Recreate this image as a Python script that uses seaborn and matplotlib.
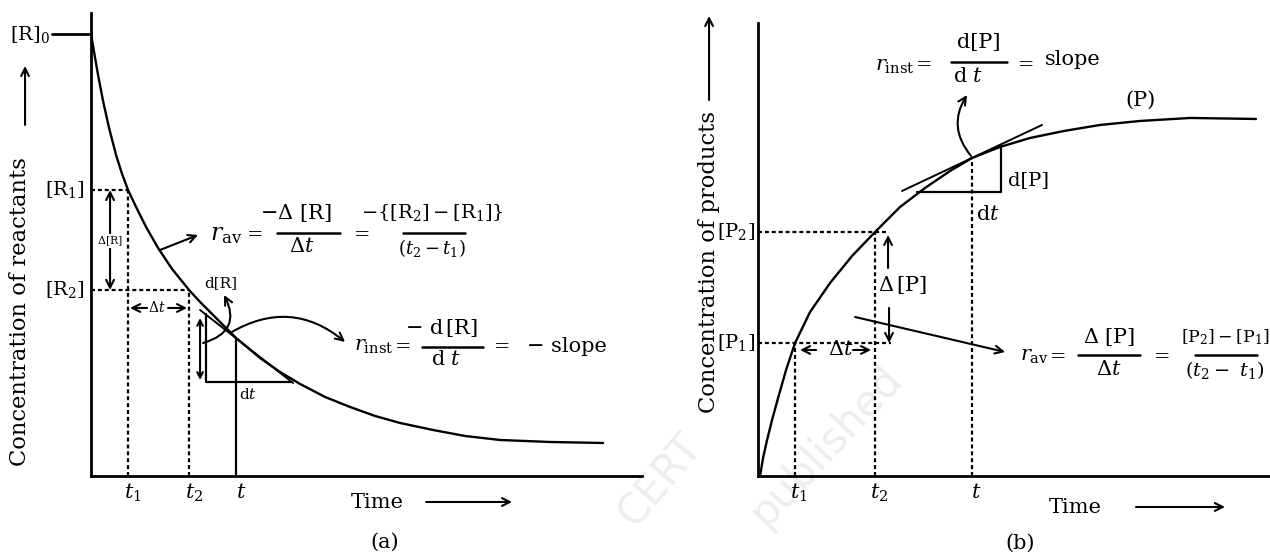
import matplotlib.pyplot as plt
import seaborn as sns

sns.set_theme(style="white")
plt.rcParams["font.family"] = ["DejaVu Serif"]
plt.rcParams["mathtext.fontset"] = "dejavuserif"

# (a) reactant curve (arbitrary units)
time_a = [0.0, 0.3, 0.7, 1.2, 1.8, 2.5, 3.1, 3.7, 4.5, 5.5, 6.7, 8.1, 9.8, 10.9,
          12.1, 13.3, 14.5, 16.9, 18.9, 20.9, 23.4, 25.9, 28.4, 30.9, 34.2,
          37.4, 40.9, 45.9, 51.2]
conc_a = [44.2, 42.4, 40.1, 37.5, 34.8, 32.1, 30.2, 28.6, 26.9, 24.9, 22.8, 20.7,
          18.6, 17.4, 16.2, 15.0, 13.8, 11.8, 10.4, 9.2, 7.9, 6.9, 6.0, 5.3, 4.6,
          4.0, 3.6, 3.4, 3.3]
R0, R1, R2, Rt = 44.2, 28.6, 18.6, 13.8
t1_a, t2_a, t_a = 3.7, 9.8, 14.5
tan_a_x, tan_a_y = [10.9, 20.2], [16.6, 9.3]

# (b) product curve
time_b = [0.2, 0.5, 0.9, 1.4, 2.0, 2.8, 3.7, 5.2, 7.2, 9.4, 11.7, 14.2, 16.7,
          19.2, 21.4, 24.2, 27.2, 30.6, 34.2, 38.2, 43.2, 49.8]
conc_b = [0.0, 1.8, 3.6, 5.6, 7.8, 10.6, 13.3, 16.4, 19.3, 22.0, 24.4, 26.9, 28.8,
          30.5, 31.8, 32.9, 33.8, 34.5, 35.1, 35.5, 35.8, 35.7]
P1, P2, Pt = 13.3, 24.4, 31.8
t1_b, t2_b, t_b = 3.7, 11.7, 21.4
tan_b_x, tan_b_y = [14.4, 28.4], [28.5, 35.1]

DASH = (0, (1.8, 1.3))
K = "black"

fig = plt.figure(figsize=(12.7, 5.52), dpi=100)
ax1 = fig.add_axes([0.0717, 0.1377, 0.4339, 0.8388])
ax2 = fig.add_axes([0.5969, 0.1377, 0.4031, 0.8207])

for ax, xmax, ymax in [(ax1, 55.1, 46.3), (ax2, 51.2, 45.3)]:
    ax.set_xlim(0, xmax)
    ax.set_ylim(0, ymax)
    ax.set_xticks([])
    ax.set_yticks([])
    ax.patch.set_visible(False)
    for s in ["top", "right"]:
        ax.spines[s].set_visible(False)
    for s in ["left", "bottom"]:
        ax.spines[s].set_color(K)
        ax.spines[s].set_linewidth(2.0)


def arrow(ax, a, b, style="->", rad=0.0, lw=1.5, ms=14):
    ax.annotate("", xy=b, xytext=a, annotation_clip=False,
                arrowprops=dict(arrowstyle=style, color=K, lw=lw, shrinkA=0, shrinkB=0,
                                mutation_scale=ms, connectionstyle=f"arc3,rad={rad}"))


def txt(ax, x, y, s, fs=15, ha="center", **kw):
    ax.text(x, y, s, fontsize=fs, ha=ha, va="center", color=K, **kw)


def bar(ax, x0, x1, y):
    ax.plot([x0, x1], [y, y], color=K, lw=1.8, clip_on=False)


# ---------------- (a) ----------------
sns.lineplot(x=time_a, y=conc_a, ax=ax1, color=K, lw=1.7, sort=False)
ax1.plot([-3.9, 0], [R0, R0], color=K, lw=2.0, clip_on=False)
ax1.plot([0, t1_a], [R1, R1], color=K, lw=1.6, ls=DASH)
ax1.plot([t1_a, t1_a], [0, R1], color=K, lw=1.6, ls=DASH)
ax1.plot([0, t2_a], [R2, R2], color=K, lw=1.6, ls=DASH)
ax1.plot([t2_a, t2_a], [0, R2], color=K, lw=1.6, ls=DASH)
ax1.plot([t_a, t_a], [0, Rt], color=K, lw=1.6)
ax1.plot(tan_a_x, tan_a_y, color=K, lw=1.4)
ax1.plot([11.5, 11.5, 20.0], [16.2, 9.4, 9.4], color=K, lw=1.6)

txt(ax1, -4.1, 44.1, r"$[\mathrm{R}]_0$", fs=14, ha="right")
arrow(ax1, (-6.6, 35.1), (-6.6, 41.0))
txt(ax1, -7.1, 16.4, "Concentration of reactants", fs=16.3, rotation=90)
txt(ax1, -0.6, R1, r"$[\mathrm{R}_1]$", fs=14, ha="right")
txt(ax1, -0.6, R2, r"$[\mathrm{R}_2]$", fs=14, ha="right")
arrow(ax1, (1.9, R2), (1.9, R1), "<->")
txt(ax1, 1.9, 23.5, r"$\Delta[\mathrm{R}]$", fs=8,
    bbox=dict(facecolor="white", edgecolor="none", pad=0.5))
arrow(ax1, (5.6, 16.8), (3.9, 16.8))
txt(ax1, 6.6, 16.8, r"$\Delta t$", fs=10)
arrow(ax1, (7.7, 16.8), (9.6, 16.8))
txt(ax1, 13.0, 19.3, "d[R]", fs=11)
arrow(ax1, (11.2, 13.3), (13.3, 18.1), rad=0.6)
arrow(ax1, (10.9, 15.8), (10.9, 9.6), "<->", ms=10)
txt(ax1, 15.7, 8.1, r"$\mathrm{d}t$", fs=11)

arrow(ax1, (13.9, 14.3), (25.4, 13.4), rad=-0.35)
txt(ax1, 26.3, 12.9, r"$r_{\mathrm{inst}}$", fs=15, ha="left")
txt(ax1, 31.2, 12.9, "=", fs=14)
txt(ax1, 35.0, 14.8, r"$-\ \mathrm{d}\,[\mathrm{R}]$")
bar(ax1, 33.1, 39.2, 12.9)
txt(ax1, 35.5, 11.6, r"$\mathrm{d}\ t$")
txt(ax1, 41.1, 12.9, "=", fs=14)
txt(ax1, 43.6, 12.9, "\u2212 slope", ha="left")

arrow(ax1, (6.9, 22.6), (10.7, 24.1))
txt(ax1, 11.9, 24.1, r"$r_{\mathrm{av}}$", fs=17, ha="left")
txt(ax1, 16.4, 24.1, "=", fs=14)
txt(ax1, 20.5, 26.3, r"$-\Delta\ [\mathrm{R}]$")
bar(ax1, 18.6, 24.9, 24.3)
txt(ax1, 21.1, 22.9, r"$\Delta t$")
txt(ax1, 27.1, 24.1, "=", fs=14)
txt(ax1, 34.1, 26.3, r"$-\{[\mathrm{R}_2]-[\mathrm{R}_1]\}$", fs=14)
bar(ax1, 31.2, 37.4, 24.3)
txt(ax1, 34.1, 22.8, r"$(t_2-t_1)$", fs=13)

for tv, lab in [(t1_a, r"$t_1$"), (t2_a, r"$t_2$"), (t_a, r"$t$")]:
    txt(ax1, tv + 0.5, -1.7, lab)
txt(ax1, 28.6, -2.7, "Time")
arrow(ax1, (33.5, -2.6), (42.1, -2.6))
txt(ax1, 29.4, -6.6, "(a)")

# ---------------- (b) ----------------
sns.lineplot(x=time_b, y=conc_b, ax=ax2, color=K, lw=1.7, sort=False)
ax2.plot([0, 13.1], [P2, P2], color=K, lw=1.6, ls=DASH)
ax2.plot([0, 13.3], [P1, P1], color=K, lw=1.6, ls=DASH)
ax2.plot([t1_b, t1_b], [0, P1], color=K, lw=1.6, ls=DASH)
ax2.plot([t2_b, t2_b], [0, P2], color=K, lw=1.6, ls=DASH)
ax2.plot([t_b, t_b], [0, Pt], color=K, lw=1.6, ls=DASH)
ax2.plot(tan_b_x, tan_b_y, color=K, lw=1.4)
ax2.plot([15.9, 24.3, 24.3], [28.4, 28.4, 33.0], color=K, lw=1.6)

txt(ax2, -4.9, 21.4, "Concentration of products", fs=16.3, rotation=90)
arrow(ax2, (-4.9, 37.6), (-4.9, 46.0))
txt(ax2, -0.3, P2, r"$[\mathrm{P}_2]$", fs=14, ha="right")
txt(ax2, -0.3, P1, r"$[\mathrm{P}_1]$", fs=14, ha="right")
txt(ax2, 27.0, 29.6, "d[P]", fs=14)
txt(ax2, 23.0, 26.1, r"$\mathrm{d}t$")
arrow(ax2, (21.3, 32.0), (20.9, 38.1), rad=-0.36)

txt(ax2, 11.7, 40.9, r"$r_{\mathrm{inst}}$", ha="left")
txt(ax2, 16.6, 41.1, "=", fs=14)
txt(ax2, 22.1, 43.3, "d[P]")
bar(ax2, 19.3, 24.9, 41.4)
txt(ax2, 21.0, 39.9, r"$\mathrm{d}\ t$")
txt(ax2, 26.8, 41.1, "=", fs=14)
txt(ax2, 28.7, 41.6, "slope", ha="left")
txt(ax2, 38.2, 37.6, "(P)")

arrow(ax2, (13.0, 20.8), (13.0, 24.1))
txt(ax2, 14.4, 19.1, r"$\Delta\,[\mathrm{P}]$")
arrow(ax2, (13.1, 16.8), (13.1, 13.3))
arrow(ax2, (5.8, 12.6), (4.2, 12.6))
txt(ax2, 8.3, 12.6, r"$\Delta t$")
arrow(ax2, (9.5, 12.6), (11.3, 12.6))

arrow(ax2, (9.7, 15.9), (24.7, 12.4))
txt(ax2, 26.2, 11.9, r"$r_{\mathrm{av}}$", ha="left")
txt(ax2, 30.0, 11.9, "=", fs=14)
txt(ax2, 35.1, 13.9, r"$\Delta\ [\mathrm{P}]$")
bar(ax2, 32.0, 38.2, 12.1)
txt(ax2, 35.1, 10.6, r"$\Delta t$")
txt(ax2, 40.4, 11.9, "=", fs=14)
txt(ax2, 46.7, 13.9, r"$[\mathrm{P}_2]-[\mathrm{P}_1]$", fs=12.5)
bar(ax2, 43.7, 49.9, 12.1)
txt(ax2, 46.7, 10.6, r"$(t_2-\ t_1)$", fs=14)

for tv, lab in [(t1_b, r"$t_1$"), (t2_b, r"$t_2$"), (t_b, r"$t$")]:
    txt(ax2, tv + 0.4, -1.7, lab)
txt(ax2, 31.7, -3.2, "Time")
arrow(ax2, (37.8, -3.1), (46.7, -3.1))
txt(ax2, 26.2, -6.7, "(b)")

# faint watermark
fig.text(0.520, 0.130, "CERT", rotation=50, color="#ededed", fontsize=30,
         family="DejaVu Sans", ha="center", va="center", zorder=-1)
fig.text(0.650, 0.192, "published", rotation=47, color="#ededed", fontsize=30,
         family="DejaVu Sans", ha="center", va="center", zorder=-1)

fig.savefig("out.png", dpi=100)
